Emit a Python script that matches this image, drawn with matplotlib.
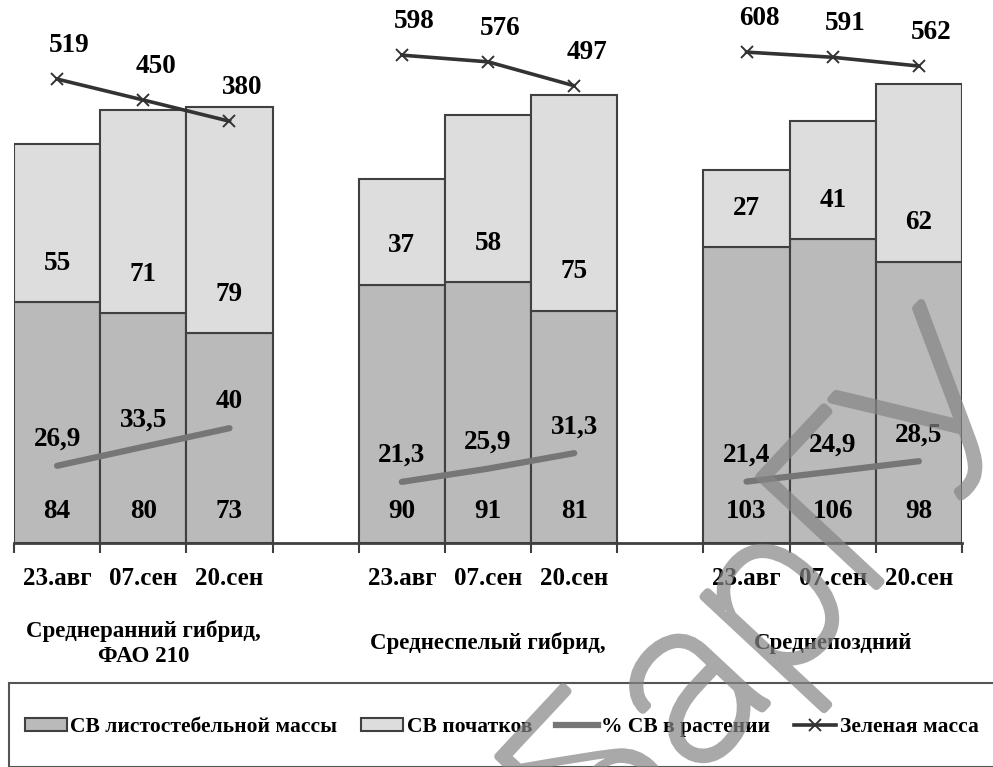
import numpy as np
import matplotlib
matplotlib.use('Agg')
import matplotlib.pyplot as plt
from matplotlib.patches import Patch, Rectangle, PathPatch
from matplotlib.lines import Line2D
from matplotlib.textpath import TextPath
from matplotlib.font_manager import FontProperties
from matplotlib.transforms import Affine2D, blended_transform_factory, IdentityTransform

# Данные по срокам уборки для трёх гибридов
dates = ['23.авг', '07.сен', '20.сен']
groups = ['Среднеранний гибрид,\nФАО 210', 'Среднеспелый гибрид,', 'Среднепоздний']
sv_stem = [84, 80, 73, 90, 91, 81, 103, 106, 98]        # СВ листостебельной массы
sv_cob = [55, 71, 79, 37, 58, 75, 27, 41, 62]           # СВ початков
pct_sv = [26.9, 33.5, 40, 21.3, 25.9, 31.3, 21.4, 24.9, 28.5]  # % СВ в растении
green = [519, 450, 380, 598, 576, 497, 608, 591, 562]   # Зеленая масса

plt.rcParams['font.family'] = ['Liberation Serif', 'DejaVu Serif']
plt.rcParams['font.weight'] = 'bold'

W, H = 993, 767
fig = plt.figure(figsize=(W / 100, H / 100), dpi=100)
ax = fig.add_axes([14 / W, 1 - 543 / H, (962 - 14) / W, (543 - 20) / H])
ax2 = ax.twinx()

c_stem = '#bababa'
c_cob = '#dddddd'
c_edge = '#404040'

n_dates = len(dates)
x = np.array([g * (n_dates + 1) + i for g in range(len(groups)) for i in range(n_dates)])
stem = np.array(sv_stem)
cob = np.array(sv_cob)

ax.bar(x, stem, width=1.0, color=c_stem, edgecolor=c_edge, linewidth=1.5, zorder=2)
ax.bar(x, cob, width=1.0, bottom=stem, color=c_cob, edgecolor=c_edge, linewidth=1.5, zorder=2)

ax.set_xlim(-0.5, 10.5)
ax.set_ylim(0, 523 / 2.87)
ax2.set_ylim(-1012, 714)

# линии рисуем отдельно для каждого гибрида
for g in range(len(groups)):
    sl = slice(g * n_dates, (g + 1) * n_dates)
    ax.plot(x[sl], pct_sv[sl], color='#767676', lw=4.5, solid_capstyle='round', zorder=3)
    ax2.plot(x[sl], green[sl], color='#333333', lw=2.6, marker='x', ms=9, mew=1.4,
             mec='#333333', zorder=3)

lbl = dict(ha='center', va='center', fontsize=19.5, fontweight='bold', color='black')
for xi, s, c, p, gm in zip(x, stem, cob, pct_sv, green):
    ax.text(xi, 11, str(s), zorder=5, **lbl)
    ax.text(xi, s + 13.5, str(c), zorder=5, **lbl)
    ax.annotate(str(p).replace('.', ','), (xi, p), xytext=(0, 19), textcoords='offset points',
                zorder=5, **lbl)
    ax2.annotate(str(gm), (xi, gm), xytext=(9, 24), textcoords='offset points',
                 zorder=5, **lbl)

# ось X: подписи дат и штрихи на границах категорий
ax.set_xticks(x, dates * len(groups))
ax.set_xticks(np.arange(-0.5, 11, 1), minor=True)
ax.tick_params(axis='x', which='major', length=0, pad=17, labelsize=18)
ax.tick_params(axis='x', which='minor', length=7, width=1.5, color=c_edge, direction='out')
for lab in ax.get_xticklabels():
    lab.set_fontweight('bold')
ax.set_yticks([])
ax2.set_yticks([])
for a in (ax, ax2):
    for side in ('top', 'left', 'right', 'bottom'):
        a.spines[side].set_visible(False)
ax.spines['bottom'].set_visible(True)
ax.spines['bottom'].set_color(c_edge)
ax.spines['bottom'].set_linewidth(2)
ax.patch.set_visible(False)

tr = blended_transform_factory(ax.transData, fig.transFigure)
for g, name in enumerate(groups):
    cx = g * (n_dates + 1) + (n_dates - 1) / 2
    ax.text(cx, 1 - 643 / H, name, transform=tr, ha='center', va='center',
            fontsize=16.5, fontweight='bold', linespacing=1.25, clip_on=False)

# рамка легенды
fig.add_artist(Rectangle((9 / W, 0), 1.0, 1 - 683 / H, transform=fig.transFigure,
                         fill=False, edgecolor='#555555', lw=1.5, clip_on=False))

handles = [
    Patch(facecolor=c_stem, edgecolor=c_edge, lw=1.5),
    Patch(facecolor=c_cob, edgecolor=c_edge, lw=1.5),
    Line2D([], [], color='#767676', lw=4.5),
    Line2D([], [], color='#333333', lw=2.6, marker='x', ms=9, mew=1.4),
]
labels = ['СВ листостебельной массы', 'СВ початков', '% СВ в растении', 'Зеленая масса']
fig.legend(handles, labels, loc='center left', bbox_to_anchor=(25 / W, 1 - 727 / H),
           ncol=4, frameon=False, handlelength=1.95, handleheight=0.6,
           handletextpad=0.15, columnspacing=1.12, borderpad=0, borderaxespad=0,
           prop={'weight': 'bold', 'size': 15.5})

# водяной знак: тонкий шрифт, обведённый серой линией
tp = TextPath((0, 0), 'БарГУ', size=225, prop=FontProperties(family='Roboto', weight='light'))
ext = tp.get_extents()
wm = (Affine2D().translate(-(ext.x0 + ext.x1) / 2, -(ext.y0 + ext.y1) / 2)
      .rotate_deg(47).translate(785, H - 600))
fig.add_artist(PathPatch(tp, transform=wm + IdentityTransform(), facecolor='none',
                         edgecolor='#858585', lw=6, joinstyle='round', alpha=0.7, zorder=10))

fig.savefig('out.png', dpi=100)
